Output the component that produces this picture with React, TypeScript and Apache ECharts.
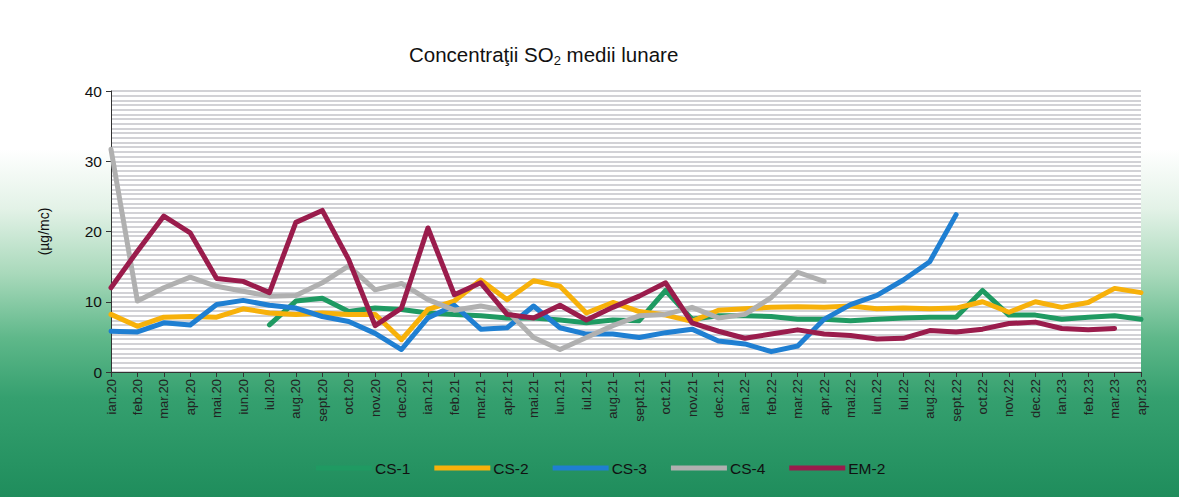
import React, { useEffect, useRef } from "react";
import * as echarts from "echarts";

const months = [
  "ian.20", "feb.20", "mar.20", "apr.20", "mai.20", "iun.20", "iul.20", "aug.20", "sept.20", "oct.20",
  "nov.20", "dec.20", "ian.21", "feb.21", "mar.21", "apr.21", "mai.21", "iun.21", "iul.21", "aug.21",
  "sept.21", "oct.21", "nov.21", "dec.21", "ian.22", "feb.22", "mar.22", "apr.22", "mai.22", "iun.22",
  "iul.22", "aug.22", "sept.22", "oct.22", "nov.22", "dec.22", "ian.23", "feb.23", "mar.23", "apr.23",
];

const cs1 = [
  null, null, null, null, null, null, 6.7, 10.1, 10.5, 8.6,
  9.1, 8.9, 8.4, 8.2, 8.0, 7.7, 7.7, 7.4, 7.0, 7.4,
  7.3, 11.6, 7.5, 8.0, 8.0, 7.9, 7.5, 7.5, 7.3, 7.5,
  7.7, 7.8, 7.8, 11.6, 8.1, 8.1, 7.5, 7.8, 8.0, 7.5,
];
const cs2 = [
  8.2, 6.5, 7.8, 7.9, 7.8, 9.0, 8.4, 8.2, 8.4, 8.2,
  8.2, 4.6, 8.9, 10.1, 13.1, 10.3, 13.0, 12.2, 8.4, 9.9,
  8.6, 8.1, 7.2, 8.8, 9.0, 9.2, 9.3, 9.2, 9.4, 9.0,
  9.1, 9.0, 9.1, 10.0, 8.5, 10.0, 9.2, 9.9, 11.9, 11.3,
];
const cs3 = [
  5.8, 5.7, 7.0, 6.7, 9.6, 10.2, 9.5, 9.1, 7.9, 7.2,
  5.5, 3.2, 7.7, 9.5, 6.1, 6.3, 9.4, 6.3, 5.4, 5.4,
  4.9, 5.6, 6.1, 4.4, 4.0, 2.9, 3.7, 7.5, 9.6, 10.9,
  13.1, 15.7, 22.4, null, null, null, null, null, null, null,
];
const cs4 = [
  31.7, 10.1, 12.0, 13.5, 12.2, 11.5, 10.8, 10.9, 12.7, 15.1,
  11.7, 12.6, 10.3, 8.8, 9.4, 8.7, 4.9, 3.2, 4.9, 6.6,
  8.0, 8.2, 9.2, 7.7, 8.2, 10.6, 14.2, 12.9, null, null,
  null, null, null, null, null, null, null, null, null, null,
];
const em2 = [
  12.0, 17.2, 22.2, 19.8, 13.3, 12.9, 11.3, 21.3, 23.0, 16.0,
  6.6, 9.1, 20.5, 11.0, 12.7, 8.2, 7.7, 9.5, 7.4, 9.2,
  10.8, 12.7, 7.0, 5.8, 4.8, 5.4, 6.0, 5.4, 5.2, 4.7,
  4.8, 5.9, 5.7, 6.1, 6.9, 7.1, 6.2, 6.0, 6.2, null,
];

const seriesNames = ["CS-1", "CS-2", "CS-3", "CS-4", "EM-2"];
const seriesData = [cs1, cs2, cs3, cs4, em2];
const seriesColors = ["#1f9a62", "#f7b10a", "#1f7fd2", "#b0b0b0", "#9a1c4c"];
const yTicks = [0, 40, 10];

const FONT = "'Liberation Sans', Arial, sans-serif";

export default function App() {
  const ref = useRef<HTMLDivElement>(null);
  useEffect(() => {
    if (!ref.current) return;
    const chart = echarts.init(ref.current, null, { renderer: "svg" });
    chart.setOption({
      animation: false,
      backgroundColor: "transparent",
      title: {
        left: 404,
        top: 36,
        text: "{a|Concentraţii SO}{s|2}{a| medii lunare}",
        textStyle: {
          fontFamily: FONT,
          fontWeight: "normal",
          rich: {
            a: { fontSize: 20.5, color: "#111", fontFamily: FONT, fontWeight: "normal", lineHeight: 26, verticalAlign: "middle" },
            s: { fontSize: 13, color: "#111", fontFamily: FONT, fontWeight: "normal", lineHeight: 26, verticalAlign: "bottom" },
          },
        },
      },
      legend: {
        left: 311,
        top: 455,
        icon: "rect",
        itemWidth: 56,
        itemHeight: 5,
        itemGap: 24,
        textStyle: { fontFamily: FONT, fontSize: 15.5, color: "#111", padding: [0, 0, 0, -2] },
        data: seriesNames,
      },
      grid: {
        left: 111,
        right: 38,
        top: 91,
        bottom: 125,
        show: true,
        backgroundColor: "#ffffff",
        borderWidth: 0,
      },
      xAxis: {
        type: "category",
        data: months,
        boundaryGap: false,
        axisLine: { lineStyle: { color: "#333", width: 1 } },
        axisTick: { show: true, alignWithLabel: true, length: 5, lineStyle: { color: "#333" } },
        axisLabel: {
          rotate: 90,
          interval: 0,
          fontFamily: FONT,
          fontSize: 13,
          color: "#222",
          margin: 7,
        },
        splitLine: { show: false },
      },
      yAxis: {
        type: "value",
        min: yTicks[0],
        max: yTicks[1],
        interval: yTicks[2],
        name: "(µg/mc)",
        nameLocation: "middle",
        nameRotate: 90,
        nameGap: 60,
        nameTextStyle: { fontFamily: FONT, fontSize: 14, color: "#111" },
        axisLine: { show: true, lineStyle: { color: "#333" } },
        axisTick: { show: true, length: 5, lineStyle: { color: "#333" } },
        axisLabel: { fontFamily: FONT, fontSize: 15.5, color: "#111", margin: 9 },
        splitLine: { show: true, lineStyle: { color: "#d2d2d6", width: 1.8 } },
        minorTick: { show: false, splitNumber: 15 },
        minorSplitLine: { show: true, lineStyle: { color: "#d2d2d6", width: 1.8 } },
      },
      series: seriesNames.map((name, i) => ({
        name,
        type: "line",
        data: seriesData[i],
        showSymbol: false,
        symbol: "none",
        connectNulls: false,
        z: i === 0 ? 2 : 3 + i,
        lineStyle: { color: seriesColors[i], width: 5, cap: "round", join: "round" },
        itemStyle: { color: seriesColors[i] },
      })),
    });
    return () => chart.dispose();
  }, []);
  return (
    <div
      style={{
        position: "fixed",
        left: 0,
        top: 0,
        width: 1179,
        height: 497,
        background:
          "linear-gradient(180deg, #ffffff 0%, #ffffff 30%, #e3f2e7 42%, #a9d9bb 55%, #5fb88a 68%, #35a06f 80%, #1f8d5c 100%)",
      }}
    >
      <div ref={ref} style={{ width: 1179, height: 497 }} />
    </div>
  );
}
